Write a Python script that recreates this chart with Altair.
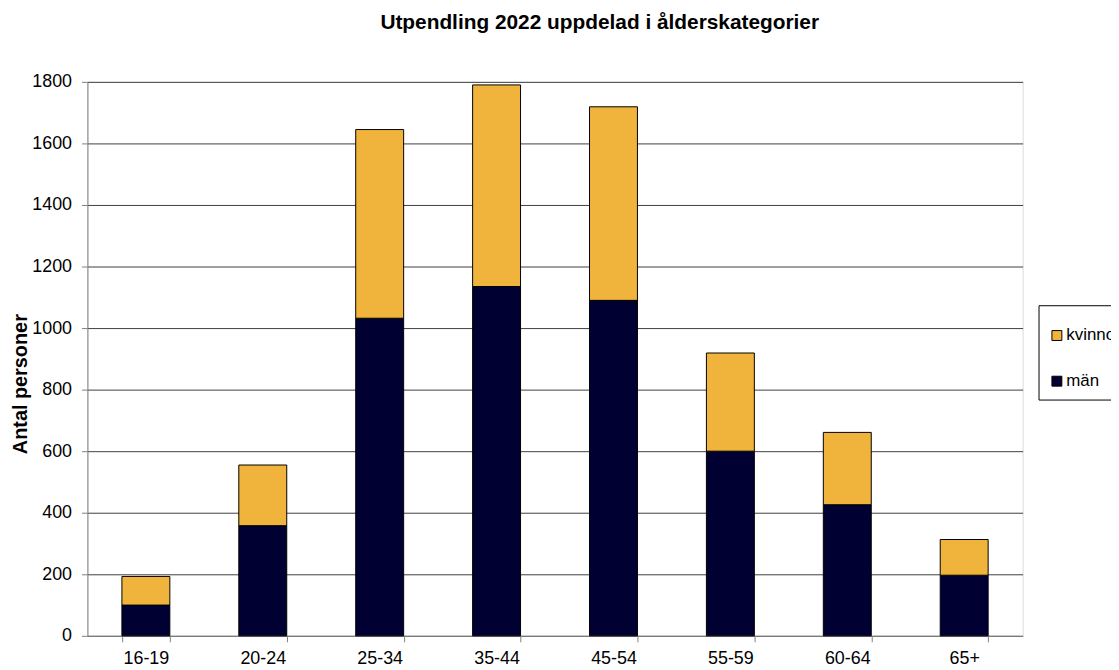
import altair as alt
import pandas as pd

categories = ["16-19", "20-24", "25-34", "35-44", "45-54", "55-59", "60-64", "65+"]
man = [100, 358, 1032, 1135, 1090, 600, 426, 197]
totals = [193, 555, 1645, 1790, 1719, 919, 661, 313]
kvinnor = [t - m for t, m in zip(totals, man)]
series = ["kvinnor", "män"]
colors = ["#F0B43C", "#000033"]

rows = []
for c, m, k in zip(categories, man, kvinnor):
    rows.append({"ålder": c, "kön": "män", "antal": m, "ordning": 0})
    rows.append({"ålder": c, "kön": "kvinnor", "antal": k, "ordning": 1})
df = pd.DataFrame(rows)

font = "Liberation Sans"

chart = alt.Chart(df).mark_bar(stroke="black", strokeWidth=1).encode(
    x=alt.X("ålder:N", sort=categories, title=None,
            scale=alt.Scale(paddingInner=0.59, paddingOuter=0.295),
            axis=alt.Axis(labelAngle=0, labelFontSize=18, labelFont=font, labelColor="black",
                          tickBand="extent", tickSize=6, tickColor="#808080",
                          domainColor="#808080", labelPadding=8)),
    y=alt.Y("antal:Q", stack="zero", title="Antal personer",
            scale=alt.Scale(domain=[0, 1800], nice=False),
            axis=alt.Axis(values=list(range(0, 1801, 200)), format="d",
                          labelFontSize=18, labelFont=font,
                          labelColor="black", tickSize=6, tickColor="#808080",
                          domainColor="#808080", gridColor="#404040", gridWidth=1,
                          titleFont=font, titleFontSize=20, titleFontWeight="bold",
                          titleColor="black", titleAngle=-90, titleX=-67, titleY=304,
                          titleAlign="center", titleBaseline="middle", labelPadding=10)),
    color=alt.Color("kön:N", sort=series,
                    scale=alt.Scale(domain=series, range=colors),
                    legend=alt.Legend(title=" ", titleFontSize=8, titlePadding=4,
                                      orient="none", legendX=958, legendY=225,
                                      symbolType="square", symbolSize=100,
                                      symbolStrokeColor="black", symbolStrokeWidth=1,
                                      labelFontSize=17, labelFont=font, labelColor="black",
                                      strokeColor="black", padding=10, rowPadding=28,
                                      fillColor="white", labelOffset=1)),
    order=alt.Order("ordning:Q"),
).properties(
    width=942, height=558,
    title=alt.TitleParams("Utpendling 2022 uppdelad i ålderskategorier", font=font,
                          fontSize=21, fontWeight="bold", color="black",
                          anchor="middle", frame="group", dx=45, offset=40),
    autosize=alt.AutoSizeParams(type="none"),
    padding={"left": 80, "top": 72, "right": 89, "bottom": 30},
).configure_view(stroke="#A0A0A0", strokeWidth=1).configure(background="white")

chart.save("out.html", embed_options={"renderer": "svg", "actions": False})
